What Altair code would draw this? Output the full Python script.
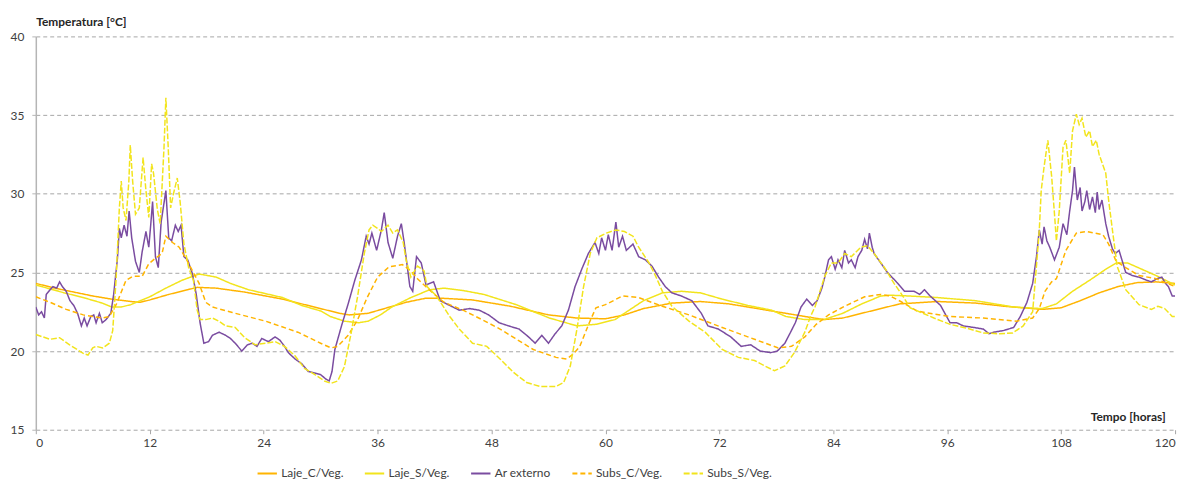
import altair as alt
import pandas as pd

SERIES = ["Laje_C/Veg.", "Laje_S/Veg.", "Ar externo", "Subs_C/Veg.", "Subs_S/Veg."]
COLORS = ["#FFB400", "#F2E41C", "#7A4CA0", "#FFB400", "#F2E41C"]
DASHES = [[1, 0], [1, 0], [1, 0], [5, 3], [6, 2]]
X_TICKS = [0, 12, 24, 36, 48, 60, 72, 84, 96, 108, 120]
Y_TICKS = [15, 20, 25, 30, 35, 40]

laje_c_t = [0, 2, 4, 6, 8, 10, 11, 12, 14, 16, 17, 19, 22, 26, 29, 32, 33, 35, 37, 39, 41, 43, 46, 50, 54, 57,
            60, 62, 64, 67, 70, 73, 76, 79, 81, 83, 85, 88, 91, 95, 99, 102, 106, 108, 110, 112, 114, 116, 118, 120]
laje_c_v = [24.3, 24.0, 23.75, 23.5, 23.3, 23.15, 23.1, 23.25, 23.6, 23.9, 24.05, 24.0, 23.75, 23.3, 22.85, 22.4,
            22.3, 22.4, 22.75, 23.1, 23.35, 23.35, 23.25, 22.85, 22.3, 22.1, 22.05, 22.3, 22.7, 23.05, 23.15, 23.0,
            22.7, 22.4, 22.2, 22.0, 22.1, 22.55, 23.0, 23.15, 23.05, 22.85, 22.65, 22.75, 23.2, 23.7, 24.1, 24.35,
            24.4, 24.3]

laje_s_t = [0, 3, 5, 7, 8, 9, 10, 12, 13.7, 15.4, 17.2, 19, 20.5, 22.4, 26, 28, 30, 31, 32.5, 34, 35, 36.3, 37.5,
            39.5, 41.5, 43, 45, 47.2, 50.6, 54.1, 57, 59, 61, 62.5, 64, 66, 68, 70, 72.3, 75, 77.5, 79, 81, 83, 85,
            87, 89, 90, 92, 95, 99, 103, 106, 107.5, 109.2, 111, 112.7, 113.8, 115, 116.5, 118, 120]
laje_s_v = [24.2, 23.7, 23.4, 23.05, 22.8, 22.8, 22.95, 23.45, 24.0, 24.5, 24.9, 24.7, 24.3, 23.9, 23.4, 22.9,
            22.55, 22.2, 21.9, 21.8, 21.9, 22.3, 22.8, 23.4, 23.9, 24.0, 23.85, 23.6, 22.95, 22.1, 21.6, 21.7, 22.0,
            22.6, 23.2, 23.7, 23.8, 23.7, 23.3, 22.9, 22.6, 22.2, 22.0, 22.0, 22.4, 23.0, 23.5, 23.55, 23.5, 23.4,
            23.2, 22.8, 22.7, 23.0, 23.8, 24.5, 25.2, 25.6, 25.6, 25.2, 24.8, 24.2]

ar_t = [0, 0.3, 0.6, 0.9, 1.1, 1.5, 1.8, 2.2, 2.5, 2.8, 3.2, 3.6, 4.0, 4.4, 4.8, 5.1, 5.4, 5.8, 6.1, 6.35, 6.7,
        7.0, 7.4, 7.9, 8.2, 8.6, 8.8, 9.0, 9.3, 9.6, 9.83, 10.1, 10.5, 10.9, 11.2, 11.6, 11.9, 12.1, 12.3, 12.6,
        12.9, 13.2, 13.7, 14.0, 14.3, 14.7, 15.0, 15.3, 15.6, 16.0, 16.5, 16.9, 17.3, 17.7, 18.2, 18.6, 19.3,
        20.0, 20.5, 21.0, 21.7, 22.3, 22.8, 23.3, 23.8, 24.5, 25.2, 25.7, 26.2, 26.6, 27.3, 28.0, 28.7, 29.4,
        30.0, 30.6, 30.9, 31.2, 31.5, 32.2, 32.9, 33.6, 34.3, 34.8, 35.1, 35.4, 35.9, 36.4, 36.7, 37.1, 37.6,
        38.1, 38.5, 38.8, 39.4, 39.7, 40.1, 40.6, 41.1, 41.9, 42.6, 43.6, 44.6, 45.7, 46.7, 47.7, 48.8, 49.8,
        50.9, 51.9, 52.6, 53.3, 54.0, 54.7, 55.4, 56.1, 56.8, 57.5, 58.2, 58.9, 59.3, 59.6, 60.0, 60.3, 60.7,
        61.1, 61.4, 61.8, 62.2, 62.9, 63.5, 64.2, 64.9, 65.6, 66.3, 67.0, 68.0, 69.1, 70.1, 70.8, 71.9, 73.2,
        74.3, 75.3, 76.3, 77.4, 78.1, 78.9, 79.5, 80.0, 80.6, 81.2, 81.8, 82.3, 82.8, 83.1, 83.5, 83.8, 84.2,
        84.5, 84.9, 85.2, 85.6, 85.9, 86.3, 86.6, 87.0, 87.3, 87.6, 87.8, 88.1, 88.3, 89.0, 89.7, 90.8, 91.5,
        92.5, 93.1, 93.6, 94.2, 95.3, 96.3, 97.0, 97.7, 98.8, 99.8, 100.4, 100.9, 101.9, 103.0, 103.7, 104.4,
        105.0, 105.4, 105.7, 106.0, 106.2, 106.5, 106.8, 107.3, 107.8, 108.2, 108.6, 108.9, 109.2, 109.4,
        109.7, 110.0, 110.2, 110.5, 110.7, 111.0, 111.3, 111.6, 111.8, 112.0, 112.3, 112.7, 113.0, 113.4,
        113.7, 114.1, 114.8, 115.5, 116.2, 117.0, 117.5, 118.1, 118.6, 119.0, 119.3, 119.7, 120]
ar_v = [22.8, 22.3, 22.5, 22.1, 23.6, 23.9, 24.1, 24.0, 24.4, 24.1, 23.8, 23.2, 22.9, 22.4, 21.6, 22.1, 21.6,
        22.2, 22.3, 21.8, 22.4, 21.8, 22.0, 22.4, 23.6, 25.9, 27.8, 27.2, 28.0, 27.3, 28.9, 27.2, 25.7, 25.0,
        26.3, 27.6, 26.6, 28.0, 29.5, 26.0, 25.3, 28.2, 30.2, 27.2, 27.0, 28.0, 27.6, 28.0, 26.0, 25.8, 24.9,
        23.6, 21.8, 20.5, 20.6, 21.0, 21.2, 21.0, 20.8, 20.5, 20.0, 20.4, 20.5, 20.3, 20.8, 20.6, 20.9, 20.7,
        20.3, 19.9, 19.5, 19.2, 18.7, 18.6, 18.5, 18.2, 18.1, 18.7, 20.1, 21.6, 23.0, 24.5, 25.8, 27.3, 26.8,
        27.5, 26.4, 27.7, 28.8, 26.9, 25.9, 27.3, 28.1, 26.9, 24.1, 23.8, 26.0, 25.6, 24.2, 24.4, 23.2, 22.9,
        22.6, 22.7, 22.6, 22.3, 21.8, 21.6, 21.4, 20.9, 20.5, 21.0, 20.5, 21.1, 21.6, 22.6, 24.1, 25.2, 26.2,
        26.9, 26.2, 27.2, 26.4, 27.4, 26.4, 28.2, 26.6, 27.3, 26.4, 26.8, 26.0, 25.8, 25.4, 24.7, 24.1, 23.7,
        23.5, 23.2, 22.4, 21.6, 21.4, 20.9, 20.3, 20.4, 20.0, 19.9, 20.0, 20.5, 21.2, 21.8, 22.8, 23.3, 22.9,
        23.2, 24.0, 24.7, 25.8, 26.0, 25.2, 25.8, 25.3, 26.4, 25.6, 25.8, 25.3, 26.0, 26.4, 27.1, 26.5, 27.5,
        26.6, 26.2, 25.6, 25.0, 24.3, 23.8, 23.8, 23.6, 23.9, 23.5, 22.9, 21.8, 21.8, 21.6, 21.5, 21.4, 21.1,
        21.2, 21.3, 21.5, 22.2, 23.1, 24.3, 26.0, 27.7, 26.8, 27.9, 27.0, 26.6, 25.8, 26.6, 28.1, 27.4, 28.9,
        30.2, 31.7, 29.6, 30.4, 28.9, 29.5, 30.2, 29.0, 29.8, 28.8, 30.1, 29.0, 29.6, 28.1, 27.3, 26.5, 26.2,
        26.4, 25.0, 24.8, 24.7, 24.5, 24.4, 24.6, 24.7, 24.3, 24.1, 23.5, 23.5]

subs_c_t = [0, 1.5, 3.2, 5, 7, 7.75, 8.5, 9.5, 10.2, 11.2, 11.9, 12.6, 13.3, 13.7, 14.4, 15.1, 15.8, 16.5, 17.2,
            17.9, 18.6, 20.7, 24.2, 27.6, 30, 31.1, 31.8, 32.9, 33.9, 34.9, 36, 37.2, 38.6, 39.5, 40.2, 40.9, 42,
            43, 45, 47, 48.9, 50.5, 52.4, 54.8, 55.9, 56.6, 57.3, 58.3, 59, 60, 61.8, 63.5, 66, 68.8, 72.3, 75.7,
            78.2, 79.6, 81, 82.2, 83.5, 85.2, 87.3, 89, 90, 91.1, 92.8, 94.6, 96.3, 99.8, 103.3, 105, 105.7, 106.3,
            107, 107.5, 108.5, 109.6, 110.7, 112.4, 113, 113.8, 114.8, 116.2, 118, 120]
subs_c_v = [23.45, 23.1, 22.65, 22.3, 22.1, 22.2, 23.0, 24.5, 24.75, 24.75, 25.55, 25.9, 26.2, 27.3, 26.9, 26.6,
            25.9, 25.1, 24.3, 23.1, 22.8, 22.45, 21.9, 21.2, 20.5, 20.2, 20.3, 21.0, 22.0, 23.4, 24.7, 25.35, 25.5,
            25.1, 24.6, 24.2, 23.6, 23.1, 22.6, 22.0, 21.4, 20.8, 20.1, 19.6, 19.5, 19.8, 20.3, 21.8, 22.75, 22.95,
            23.5, 23.4, 22.85, 22.3, 21.5, 20.75, 20.2, 20.3, 20.9, 21.7, 22.3, 22.85, 23.45, 23.6, 23.5, 23.15,
            22.55, 22.35, 22.2, 22.1, 21.9, 22.1, 22.7, 23.8, 24.4, 24.6, 26.4, 27.5, 27.6, 27.4, 26.8, 25.7, 25.3,
            24.8, 24.6, 24.1]

subs_s_t = [0, 1.5, 2.5, 3.56, 5.0, 5.5, 6.0, 6.35, 7.05, 7.75, 8.1, 8.45, 8.8, 9.0, 9.2, 9.5, 9.8, 9.95, 10.2,
            10.5, 10.9, 11.3, 11.6, 11.9, 12.2, 12.4, 12.8, 13.1, 13.5, 13.7, 13.95, 14.2, 14.5, 14.9, 15.2, 15.6,
            16.1, 16.6, 17.0, 17.3, 17.9, 18.6, 19.3, 20.0, 21.0, 22.0, 23.1, 24.2, 25.2, 26.2, 27.3, 28.3, 29.4,
            30.4, 31.1, 31.8, 32.5, 33.2, 33.9, 34.6, 35.1, 35.5, 36.0, 36.4, 37.1, 37.6, 38.1, 38.7, 39.0, 39.5,
            40.2, 40.9, 41.2, 42.2, 43.6, 44.6, 46, 47.5, 48.9, 50.3, 51.7, 53.1, 54.8, 55.6, 56.3, 57.0, 57.7,
            58.4, 59.1, 60.1, 61.1, 62.0, 62.9, 63.5, 64.6, 65.3, 66, 67, 68.8, 70.5, 72.3, 74, 75.7, 76.8, 77.8,
            78.9, 79.9, 81, 81.6, 82.1, 83.1, 83.8, 84.5, 85.2, 85.9, 86.9, 87.6, 88.3, 89.4, 90.4, 91.1, 92.1,
            94.6, 96.3, 98.1, 99.8, 101.5, 102.9, 104, 105, 105.4, 105.7, 105.9, 106.2, 106.6, 107.0, 107.3, 107.5,
            107.8, 108.2, 108.5, 108.9, 109.2, 109.6, 109.9, 110.2, 110.6, 111.0, 111.3, 111.7, 112.0, 112.7,
            113.0, 113.4, 113.9, 114.8, 116.2, 117.5, 118.2, 118.9, 119.7, 120]
subs_s_v = [21.05, 20.75, 20.85, 20.4, 19.85, 19.75, 20.2, 20.3, 20.2, 20.5, 21.3, 24.5, 29.1, 30.8, 29.1, 28.3,
            30.8, 33.1, 30.8, 28.7, 29.1, 32.3, 30.2, 28.5, 31.9, 31.3, 29.0, 28.1, 32.9, 36.1, 32.9, 29.1, 30.0,
            31.0, 29.5, 26.8, 25.3, 24.5, 22.6, 22.0, 22.0, 22.1, 21.9, 21.6, 21.5, 20.85, 20.4, 20.5, 20.6, 20.3,
            19.7, 18.9, 18.5, 18.1, 17.95, 18.1, 19.0, 21.1, 23.5, 26.2, 27.7, 28.0, 27.8, 27.6, 28.0, 27.5, 27.7,
            26.9, 25.8, 24.7, 25.4, 25.1, 24.1, 23.5, 22.2, 21.4, 20.5, 20.3, 19.5, 18.65, 18.0, 17.75, 17.75, 18.0,
            19.05, 21.4, 24.1, 26.2, 27.2, 27.5, 27.7, 27.6, 27.3, 26.6, 25.6, 24.75, 23.8, 22.85, 21.9, 21.2, 20.1,
            19.6, 19.4, 19.05, 18.75, 19.05, 19.9, 21.2, 22.2, 22.85, 24.75, 25.6, 25.6, 26.2, 26.0, 26.6, 26.7,
            26.2, 25.3, 24.3, 23.7, 22.75, 22.1, 21.7, 21.45, 21.15, 21.1, 21.15, 21.6, 22.5, 25.4, 27.7, 30.2,
            31.7, 33.4, 31.1, 28.7, 27.0, 28.9, 32.95, 33.4, 31.3, 34.0, 35.05, 34.4, 34.8, 33.6, 34.0, 33.0, 33.4,
            32.5, 31.3, 29.6, 27.7, 25.4, 23.9, 22.95, 22.65, 22.85, 22.7, 22.2, 22.2]

pairs = [(laje_c_t, laje_c_v), (laje_s_t, laje_s_v), (ar_t, ar_v), (subs_c_t, subs_c_v), (subs_s_t, subs_s_v)]
rows = []
for order, (name, (ts, vs)) in enumerate(zip(SERIES, pairs)):
    for t, v in zip(ts, vs):
        rows.append({"serie": name, "ordem": order, "t": t, "temp": v})
df = pd.DataFrame(rows)

FONT = "Lato"
TXT = "#404040"

chart = alt.Chart(df).mark_line(strokeWidth=1.5, clip=True).encode(
    x=alt.X("t:Q", scale=alt.Scale(domain=[0, 120], nice=False, zero=False),
            axis=alt.Axis(values=X_TICKS, title="Tempo [horas]", grid=False, domain=False,
                          ticks=True, tickSize=4, tickColor="#a6a6a6", labelPadding=4,
                          titleX=1137, titleY=-13, titleAlign="right", titleBaseline="middle",
                          titleAnchor="start")),
    y=alt.Y("temp:Q", scale=alt.Scale(domain=[15, 40], nice=False, zero=False),
            axis=alt.Axis(values=Y_TICKS, title="Temperatura [°C]", grid=True,
                          gridDash=[4, 3], gridColor="#a6a6a6", gridWidth=1,
                          domain=True, domainColor="#b5b5b5", domainWidth=1.5,
                          ticks=True, tickSize=4, tickColor="#b5b5b5", labelPadding=8,
                          titleAngle=0, titleX=0, titleY=-15, titleAlign="left",
                          titleBaseline="middle", titleAnchor="start")),
    color=alt.Color("serie:N", scale=alt.Scale(domain=SERIES, range=COLORS),
                    legend=alt.Legend(title=None, orient="none", direction="horizontal", columns=5,
                                      legendX=222, legendY=429, symbolType="stroke",
                                      symbolSize=380, symbolStrokeWidth=2, columnPadding=17,
                                      labelFont=FONT, labelFontSize=12, labelColor=TXT,
                                      labelOffset=3)),
    strokeDash=alt.StrokeDash("serie:N", scale=alt.Scale(domain=SERIES, range=DASHES)),
    detail="serie:N",
    order=alt.Order("ordem:Q"),
).properties(
    width=1147, height=396,
    padding={"left": 28, "top": 27, "right": 10, "bottom": 48},
    autosize=alt.AutoSizeParams(type="none"),
).configure_view(stroke=None).configure_axis(
    labelFont=FONT, labelFontSize=12, labelColor=TXT,
    titleFont=FONT, titleFontSize=12, titleFontWeight="bold", titleColor="#262626",
)

chart.save("out.html", embed_options={"renderer": "svg", "actions": False})
